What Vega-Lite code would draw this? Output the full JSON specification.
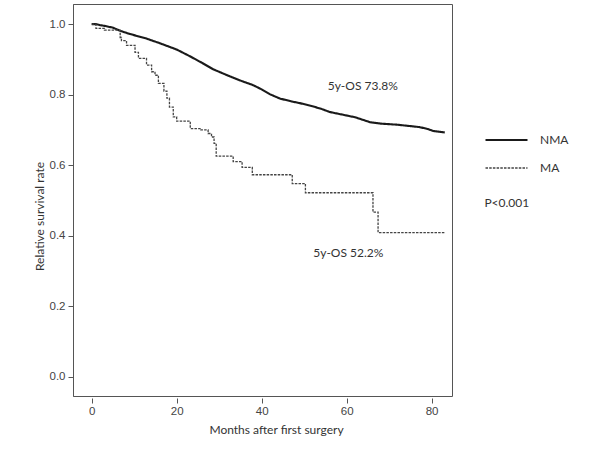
{
  "$schema": "https://vega.github.io/schema/vega-lite/v6.json",
  "width": 379,
  "height": 392,
  "autosize": {"type": "none"},
  "padding": {"left": 73, "top": 4, "right": 148, "bottom": 54},
  "background": "white",
  "config": {
    "view": {"stroke": "#555", "strokeWidth": 1},
    "font": "Lato",
    "axis": {"grid": false, "labelFont": "Liberation Sans", "labelFontSize": 11.5, "labelColor": "#444", "tickColor": "#555", "domainColor": "#555", "titleFont": "Lato", "titleFontWeight": "normal", "titleColor": "#333"}
  },
  "datasets": {
    "curves": [
      {"group": "NMA", "t": 0, "s": 1.0},
      {"group": "NMA", "t": 1, "s": 1.0},
      {"group": "NMA", "t": 2, "s": 0.997},
      {"group": "NMA", "t": 3, "s": 0.995},
      {"group": "NMA", "t": 5, "s": 0.99},
      {"group": "NMA", "t": 6.7, "s": 0.981},
      {"group": "NMA", "t": 9, "s": 0.972},
      {"group": "NMA", "t": 12.9, "s": 0.959},
      {"group": "NMA", "t": 16, "s": 0.946},
      {"group": "NMA", "t": 20, "s": 0.928},
      {"group": "NMA", "t": 23.1, "s": 0.909},
      {"group": "NMA", "t": 26, "s": 0.89},
      {"group": "NMA", "t": 28.6, "s": 0.872},
      {"group": "NMA", "t": 32.5, "s": 0.852},
      {"group": "NMA", "t": 35, "s": 0.84},
      {"group": "NMA", "t": 38, "s": 0.827},
      {"group": "NMA", "t": 40, "s": 0.815},
      {"group": "NMA", "t": 42, "s": 0.801},
      {"group": "NMA", "t": 44.3, "s": 0.789},
      {"group": "NMA", "t": 47, "s": 0.781},
      {"group": "NMA", "t": 49, "s": 0.776},
      {"group": "NMA", "t": 52, "s": 0.767},
      {"group": "NMA", "t": 54, "s": 0.76},
      {"group": "NMA", "t": 56, "s": 0.751},
      {"group": "NMA", "t": 58, "s": 0.746},
      {"group": "NMA", "t": 60, "s": 0.741},
      {"group": "NMA", "t": 62, "s": 0.736},
      {"group": "NMA", "t": 64, "s": 0.728},
      {"group": "NMA", "t": 65.5, "s": 0.722},
      {"group": "NMA", "t": 68, "s": 0.718},
      {"group": "NMA", "t": 71.8, "s": 0.715},
      {"group": "NMA", "t": 75, "s": 0.711},
      {"group": "NMA", "t": 77.2, "s": 0.708},
      {"group": "NMA", "t": 79, "s": 0.703},
      {"group": "NMA", "t": 80.4, "s": 0.697},
      {"group": "NMA", "t": 83.1, "s": 0.693},
      {"group": "MA", "t": 0, "s": 1.0},
      {"group": "MA", "t": 1, "s": 0.988},
      {"group": "MA", "t": 3, "s": 0.983},
      {"group": "MA", "t": 6.7, "s": 0.962},
      {"group": "MA", "t": 7, "s": 0.953},
      {"group": "MA", "t": 8.2, "s": 0.94},
      {"group": "MA", "t": 10.2, "s": 0.92},
      {"group": "MA", "t": 11, "s": 0.903},
      {"group": "MA", "t": 12.9, "s": 0.884},
      {"group": "MA", "t": 14.1, "s": 0.865},
      {"group": "MA", "t": 14.9, "s": 0.855},
      {"group": "MA", "t": 15.7, "s": 0.832},
      {"group": "MA", "t": 17, "s": 0.81},
      {"group": "MA", "t": 17.7, "s": 0.79},
      {"group": "MA", "t": 18.3, "s": 0.765},
      {"group": "MA", "t": 19.2, "s": 0.737},
      {"group": "MA", "t": 20, "s": 0.725},
      {"group": "MA", "t": 23.2, "s": 0.704},
      {"group": "MA", "t": 25.7, "s": 0.7},
      {"group": "MA", "t": 27.4, "s": 0.69},
      {"group": "MA", "t": 28.2, "s": 0.68},
      {"group": "MA", "t": 28.8, "s": 0.662},
      {"group": "MA", "t": 29.3, "s": 0.626},
      {"group": "MA", "t": 33.3, "s": 0.61},
      {"group": "MA", "t": 35.4, "s": 0.594},
      {"group": "MA", "t": 37.8, "s": 0.573},
      {"group": "MA", "t": 47.2, "s": 0.548},
      {"group": "MA", "t": 50.3, "s": 0.522},
      {"group": "MA", "t": 66.2, "s": 0.467},
      {"group": "MA", "t": 67.4, "s": 0.409},
      {"group": "MA", "t": 83.1, "s": 0.409}
    ],
    "notes": [
      {"label": "5y-OS 73.8%", "t": 63.8, "s": 0.824},
      {"label": "5y-OS 52.2%", "t": 60.4, "s": 0.352},
      {"label": "P<0.001", "t": 97.7, "s": 0.493}
    ]
  },
  "layer": [
    {
      "data": {"name": "curves"},
      "transform": [{"filter": "datum.group === 'NMA'"}],
      "mark": {"type": "line", "interpolate": "linear", "clip": false},
      "encoding": {
        "x": {"field": "t", "type": "quantitative", "scale": {"domain": [-4.4, 84.8], "nice": false, "zero": false},
          "axis": {"values": [0, 20, 40, 60, 80], "domain": false, "offset": 2, "tickSize": 5, "labelPadding": 2, "title": "Months after first surgery", "titleFontSize": 12, "titleX": 203, "titleY": 31, "titleBaseline": "middle", "titleAnchor": null}},
        "y": {"field": "s", "type": "quantitative", "scale": {"domain": [-0.054, 1.057], "nice": false, "zero": false},
          "axis": {"values": [0, 0.2, 0.4, 0.6, 0.8, 1.0], "format": ".1f", "tickSize": 5, "labelPadding": 3, "title": "Relative survival rate", "titleFontSize": 12, "titleX": -34, "titleY": 212, "titleBaseline": "middle", "titleAngle": 270}},
        "color": {"field": "group", "type": "nominal", "scale": {"domain": ["NMA", "MA"], "range": ["#1a1a1a", "#444444"]},
          "legend": {"orient": "none", "legendX": 411, "legendY": 122, "title": null, "symbolType": "stroke", "symbolSize": 1764, "clipHeight": 28, "rowPadding": 0, "padding": 0, "symbolOffset": 0, "labelOffset": 11, "labelFont": "Lato", "labelFontSize": 12, "labelColor": "#333"}},
        "strokeDash": {"field": "group", "type": "nominal", "scale": {"domain": ["NMA", "MA"], "range": [[1, 0], [2.5, 1.2]]}},
        "strokeWidth": {"field": "group", "type": "nominal", "scale": {"domain": ["NMA", "MA"], "range": [2.1, 1.3]}}
      }
    },
    {
      "data": {"name": "curves"},
      "transform": [{"filter": "datum.group === 'MA'"}],
      "mark": {"type": "line", "interpolate": "step-after", "clip": false},
      "encoding": {
        "x": {"field": "t", "type": "quantitative"},
        "y": {"field": "s", "type": "quantitative"},
        "color": {"field": "group", "type": "nominal"},
        "strokeDash": {"field": "group", "type": "nominal"},
        "strokeWidth": {"field": "group", "type": "nominal"}
      }
    },
    {
      "data": {"name": "notes"},
      "mark": {"type": "text", "font": "Lato", "fontSize": 12, "align": "center", "baseline": "middle", "color": "#333"},
      "encoding": {
        "x": {"field": "t", "type": "quantitative"},
        "y": {"field": "s", "type": "quantitative"},
        "text": {"field": "label", "type": "nominal"}
      }
    }
  ]
}
